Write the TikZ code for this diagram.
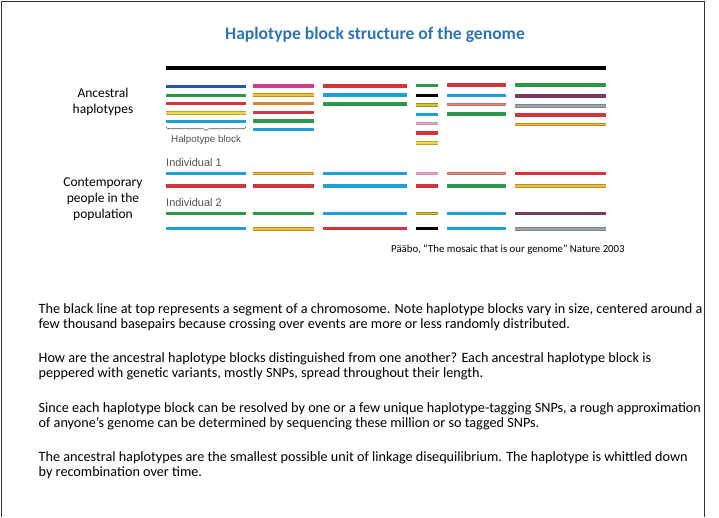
\documentclass[tikz,border=0pt]{standalone}
\usepackage{fontspec}
\setmainfont{Carlito}
\newfontfamily\arialf{Liberation Sans}
\usetikzlibrary{decorations.pathreplacing}
\definecolor{ttl}{HTML}{2E74B5}
\definecolor{dblue}{HTML}{1F5A9E}
\definecolor{grn}{HTML}{2A9A4A}
\definecolor{rd}{HTML}{D2363C}
\definecolor{yel}{HTML}{EDD850}
\definecolor{yeledge}{HTML}{C0A030}
\definecolor{lblue}{HTML}{1DA0D8}
\definecolor{mag}{HTML}{D23C8C}
\definecolor{ochre}{HTML}{ECC040}
\definecolor{ochreedge}{HTML}{C08C20}
\definecolor{orng}{HTML}{D8843A}
\definecolor{olive}{HTML}{D4CA30}
\definecolor{oliveedge}{HTML}{9A9020}
\definecolor{pink}{HTML}{E6B0CC}
\definecolor{pinkedge}{HTML}{C890B0}
\definecolor{salmon}{HTML}{E08A7E}
\definecolor{purp}{HTML}{7A3A62}
\definecolor{gry}{HTML}{9AA6AE}
\definecolor{frame}{HTML}{303030}
\definecolor{smallgray}{HTML}{505050}
% plain bar
\newcommand\blk[4]{\draw[line width=3.5pt,#4] (#1,#3) -- (#2,#3);}
% striped bar (edge colour, fill colour)
\newcommand\sblk[5]{\draw[line width=3.6pt,#4] (#1,#3) -- (#2,#3);\draw[line width=1.6pt,#5] (#1,#3) -- (#2,#3);}
\begin{document}
\begin{tikzpicture}[x=1pt,y=-1pt,
  body/.style={anchor=base west,inner sep=0pt,font=\fontsize{14.2}{15}\selectfont},
  side/.style={align=center,inner sep=0pt,font=\fontsize{13.5}{16}\selectfont},
  small/.style={anchor=base west,inner sep=0pt,text=smallgray,font=\arialf\fontsize{9.8}{11}\selectfont},
  indiv/.style={small,font=\arialf\fontsize{11}{12}\selectfont}]
\useasboundingbox (0,0) rectangle (719,517);
% frame
\draw[frame,line width=1.5pt] (1.5,517) -- (1.5,1.5) -- (704.5,1.5) -- (704.5,517);
% title
\node[inner sep=0pt,text=ttl,font=\bfseries\fontsize{17.6}{19}\selectfont] (title) at (375,35) {Haplotype block structure of the genome};
% chromosome
\draw[line width=4pt,black] (166,68) -- (606,68);
% side labels
\node[side] (anc) at (103,101.5) {Ancestral\\haplotypes};
\node[side] (pop) at (103,199.5) {Contemporary\\people in the\\population};
% ancestral column 1
\blk{166}{246}{86.7}{dblue}
\blk{166}{246}{95.3}{grn}
\blk{166}{246}{103.7}{rd}
\sblk{166}{246}{112.7}{yeledge}{yel}
\blk{166}{246}{121.3}{lblue}
\draw[smallgray,line width=0.6pt,decorate,decoration={brace,mirror,amplitude=3.5pt}] (166,127) -- (246,127);
\node[small] (hb) at (171,142) {Halpotype block};
% column 2
\blk{253}{314}{86}{mag}
\sblk{253}{314}{94.7}{ochreedge}{ochre}
\blk{253}{314}{103.7}{orng}
\blk{253}{314}{112.3}{rd}
\blk{253}{314}{121}{grn}
\blk{253}{314}{129.7}{lblue}
% column 3
\blk{323}{407}{86}{rd}
\blk{323}{407}{95}{lblue}
\blk{323}{407}{104}{grn}
% column 4
\blk{416}{438}{85.7}{grn}
\blk{416}{438}{95.3}{black}
\sblk{416}{438}{105}{oliveedge}{olive}
\blk{416}{438}{114.3}{lblue}
\sblk{416}{438}{123.3}{pinkedge}{pink}
\blk{416}{438}{133}{rd}
\sblk{416}{438}{142.7}{yeledge}{yel}
% column 5
\blk{447}{506}{85}{rd}
\blk{447}{506}{95.3}{lblue}
\sblk{447}{506}{104.3}{salmon!85!black}{salmon}
\blk{447}{506}{114}{grn}
% column 6
\blk{515}{606}{85}{grn}
\blk{515}{606}{96}{purp}
\sblk{515}{606}{105.7}{gry!80!black}{gry}
\blk{515}{606}{115}{rd}
\sblk{515}{606}{124.3}{ochreedge}{ochre}
% individuals
\node[indiv] (ind1) at (166,166.5) {Individual 1};
\node[indiv] (ind2) at (166,206.5) {Individual 2};
% individual 1
\blk{166}{246}{173.3}{lblue}
\blk{166}{246}{186}{rd}
\sblk{253}{314}{173.3}{ochreedge}{ochre}
\blk{253}{314}{186}{rd}
\blk{323}{407}{173.3}{lblue}
\blk{323}{407}{186}{lblue}
\sblk{416}{438}{173.3}{pinkedge}{pink}
\blk{416}{438}{186}{rd}
\sblk{447}{506}{173.3}{salmon!85!black}{salmon}
\blk{447}{506}{186}{grn}
\blk{515}{606}{173.3}{rd}
\sblk{515}{606}{186}{ochreedge}{ochre}
% individual 2
\blk{166}{246}{213.3}{grn}
\blk{166}{246}{228.7}{lblue}
\blk{253}{314}{213.3}{grn}
\sblk{253}{314}{228.7}{ochreedge}{ochre}
\blk{323}{407}{213.3}{lblue}
\blk{323}{407}{228.7}{rd}
\sblk{416}{438}{213.3}{oliveedge}{olive}
\blk{416}{438}{228.7}{black}
\blk{447}{506}{213.3}{lblue}
\blk{447}{506}{228.7}{lblue}
\blk{515}{606}{213.3}{purp}
\sblk{515}{606}{228.7}{gry!80!black}{gry}
% citation
\node[anchor=base west,inner sep=0pt,font=\fontsize{10.8}{12}\selectfont] (cite) at (391,252.5) {Pääbo, “The mosaic that is our genome” Nature 2003};
% body text
\node[body] (p1a) at (38.5,313) {The black line at top represents a segment of a chromosome. Note haplotype blocks vary in size, centered around a};
\node[body] (p1b) at (38.5,328) {few thousand basepairs because crossing over events are more or less randomly distributed.};
\node[body] (p2a) at (38.5,362.5) {How are the ancestral haplotype blocks distinguished from one another? Each ancestral haplotype block is};
\node[body] (p2b) at (38.5,377.5) {peppered with genetic variants, mostly SNPs, spread throughout their length.};
\node[body] (p3a) at (38.5,412) {Since each haplotype block can be resolved by one or a few unique haplotype-tagging SNPs, a rough approximation};
\node[body] (p3b) at (38.5,427) {of anyone’s genome can be determined by sequencing these million or so tagged SNPs.};
\node[body] (p4a) at (38.5,461.5) {The ancestral haplotypes are the smallest possible unit of linkage disequilibrium. The haplotype is whittled down};
\node[body] (p4b) at (38.5,476.5) {by recombination over time.};
\end{tikzpicture}
\end{document}
